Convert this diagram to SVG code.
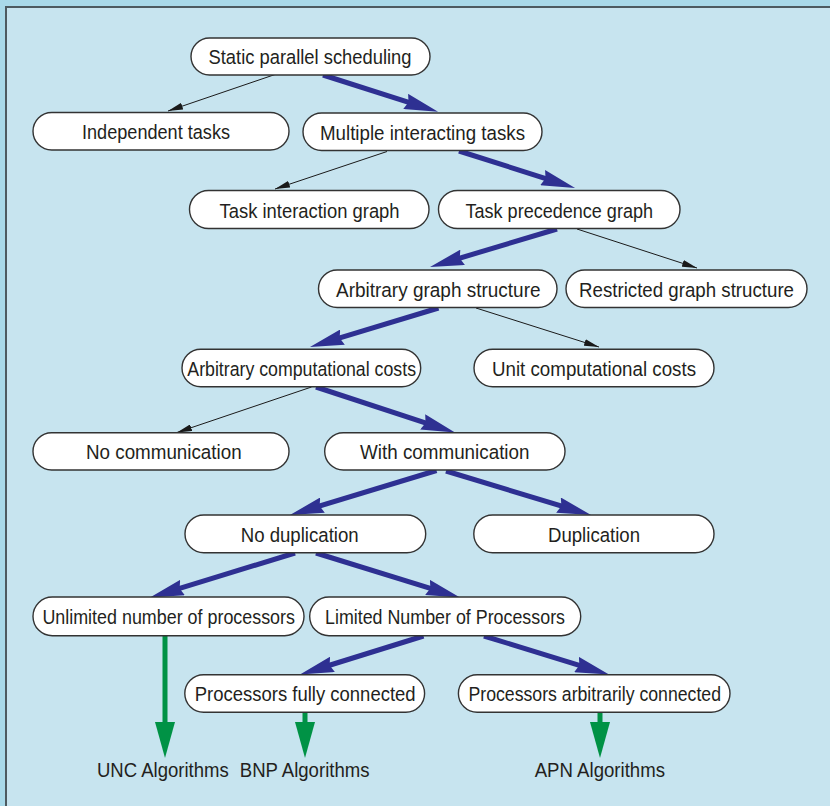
<svg xmlns="http://www.w3.org/2000/svg" width="830" height="806" viewBox="0 0 830 806">
<style>
.node rect{fill:#fff;stroke:#333;stroke-width:1.4}
text{font-family:"Liberation Sans",Arial,sans-serif;font-size:20.5px;fill:#231f20}
.thin{stroke:#1a1a1a;stroke-width:1;fill:none;marker-end:url(#ah-thin)}
.thick{stroke:#2e3092;stroke-width:5;fill:none;marker-end:url(#ah-thick)}
.green{stroke:#009245;stroke-width:5;fill:none;marker-end:url(#ah-green)}
</style>
<defs>
<marker id="ah-thin" markerUnits="userSpaceOnUse" markerWidth="15" markerHeight="7" refX="15" refY="3.5" orient="auto"><path d="M0,0 L15,3.5 L0,7 z" fill="#1a1a1a"/></marker>
<marker id="ah-thick" markerUnits="userSpaceOnUse" markerWidth="34" markerHeight="16" refX="14" refY="8" orient="auto"><path d="M0,0 L34,8 L0,16 L3,8 z" fill="#2e3092"/></marker>
<marker id="ah-green" markerUnits="userSpaceOnUse" markerWidth="36" markerHeight="20" refX="6" refY="10" orient="auto"><path d="M0,0 L36,10 L0,20 z" fill="#009245"/></marker>
</defs>
<rect x="0" y="0" width="830" height="806" fill="#a9d9e9"/>
<rect x="5" y="6" width="825" height="800" fill="#c7e4ef"/>
<path d="M6,806 V7 H830" fill="none" stroke="#4d5a60" stroke-width="2"/>

<g id="connectors">
<line class="thin" x1="275" y1="74.5" x2="168" y2="111"/>
<line class="thick" x1="323" y1="75" x2="419" y2="105.7"/>
<line class="thin" x1="387" y1="151.5" x2="275" y2="189"/>
<line class="thick" x1="459" y1="151" x2="556" y2="181.9"/>
<line class="thick" x1="557" y1="229" x2="449.2" y2="261.3"/>
<line class="thin" x1="577" y1="229" x2="697" y2="268"/>
<line class="thick" x1="438.5" y1="308" x2="329.1" y2="341.2"/>
<line class="thin" x1="476" y1="308" x2="599" y2="347"/>
<line class="thin" x1="311.5" y1="387" x2="177" y2="432.5"/>
<line class="thick" x1="316" y1="387" x2="436" y2="426.3"/>
<line class="thick" x1="436.5" y1="470.5" x2="309.1" y2="509.2"/>
<line class="thick" x1="446" y1="471" x2="571.9" y2="509.2"/>
<line class="thick" x1="295" y1="553" x2="169.1" y2="591.6"/>
<line class="thick" x1="316" y1="553" x2="440.9" y2="591.6"/>
<line class="thick" x1="423.5" y1="636" x2="319.1" y2="668.5"/>
<line class="thick" x1="484" y1="636" x2="589.9" y2="668.6"/>
<line class="green" x1="165" y1="636" x2="165" y2="728"/>
<line class="green" x1="305" y1="713" x2="305" y2="728"/>
<line class="green" x1="600" y1="713" x2="600" y2="728"/>
</g>

<g id="n-static" class="node"><rect x="191" y="38" width="239" height="37" rx="18.5"/><text x="208.5" y="64" textLength="203" lengthAdjust="spacingAndGlyphs">Static parallel scheduling</text></g>
<g id="n-independent" class="node"><rect x="33" y="112.5" width="256" height="37.5" rx="18.7"/><text x="82" y="139" textLength="148" lengthAdjust="spacingAndGlyphs">Independent tasks</text></g>
<g id="n-multiple" class="node"><rect x="303" y="113" width="239" height="37.5" rx="18.7"/><text x="320" y="139.5" textLength="205" lengthAdjust="spacingAndGlyphs">Multiple interacting tasks</text></g>
<g id="n-tig" class="node"><rect x="189.5" y="190.5" width="239.5" height="38" rx="19"/><text x="219.6" y="217.5" textLength="180" lengthAdjust="spacingAndGlyphs">Task interaction graph</text></g>
<g id="n-tpg" class="node"><rect x="438.5" y="190.5" width="241.5" height="38" rx="19"/><text x="465.5" y="217.5" textLength="187.5" lengthAdjust="spacingAndGlyphs">Task precedence graph</text></g>
<g id="n-ags" class="node"><rect x="318.5" y="270" width="238.5" height="37.5" rx="18.7"/><text x="336" y="296.5" textLength="204.5" lengthAdjust="spacingAndGlyphs">Arbitrary graph structure</text></g>
<g id="n-rgs" class="node"><rect x="566" y="270" width="241" height="37.5" rx="18.7"/><text x="579" y="296.5" textLength="215" lengthAdjust="spacingAndGlyphs">Restricted graph structure</text></g>
<g id="n-acc" class="node"><rect x="182" y="349.3" width="238.7" height="37.4" rx="18.7"/><text x="187.3" y="375.5" textLength="228.7" lengthAdjust="spacingAndGlyphs">Arbitrary computational costs</text></g>
<g id="n-ucc" class="node"><rect x="474" y="349.3" width="240" height="37.4" rx="18.7"/><text x="492" y="375.5" textLength="204" lengthAdjust="spacingAndGlyphs">Unit computational costs</text></g>
<g id="n-nocomm" class="node"><rect x="33" y="432.7" width="256" height="37.3" rx="18.6"/><text x="86" y="459" textLength="155.6" lengthAdjust="spacingAndGlyphs">No communication</text></g>
<g id="n-withcomm" class="node"><rect x="324.7" y="432.7" width="240.3" height="37.3" rx="18.6"/><text x="360" y="459" textLength="169.5" lengthAdjust="spacingAndGlyphs">With communication</text></g>
<g id="n-nodup" class="node"><rect x="185" y="515" width="240.7" height="37.7" rx="18.8"/><text x="240.7" y="541.5" textLength="118" lengthAdjust="spacingAndGlyphs">No duplication</text></g>
<g id="n-dup" class="node"><rect x="473.8" y="515" width="240.2" height="37.7" rx="18.8"/><text x="548" y="541.5" textLength="92" lengthAdjust="spacingAndGlyphs">Duplication</text></g>
<g id="n-unlimited" class="node"><rect x="33" y="597" width="271" height="38.7" rx="19.3"/><text x="42.4" y="624" textLength="252.6" lengthAdjust="spacingAndGlyphs">Unlimited number of processors</text></g>
<g id="n-limited" class="node"><rect x="309.7" y="597" width="271" height="38.7" rx="19.3"/><text x="325" y="624" textLength="240" lengthAdjust="spacingAndGlyphs">Limited Number of Processors</text></g>
<g id="n-pfc" class="node"><rect x="184.8" y="674.7" width="239.8" height="37.6" rx="18.8"/><text x="194.8" y="701" textLength="220.8" lengthAdjust="spacingAndGlyphs">Processors fully connected</text></g>
<g id="n-pac" class="node"><rect x="458.4" y="674.7" width="271.6" height="37.6" rx="18.8"/><text x="468.5" y="701" textLength="252.5" lengthAdjust="spacingAndGlyphs">Processors arbitrarily connected</text></g>

<g id="n-unc"><text x="96.9" y="777" textLength="131.8" lengthAdjust="spacingAndGlyphs">UNC Algorithms</text></g>
<g id="n-bnp"><text x="239.8" y="777" textLength="129.7" lengthAdjust="spacingAndGlyphs">BNP Algorithms</text></g>
<g id="n-apn"><text x="534.7" y="777" textLength="130.3" lengthAdjust="spacingAndGlyphs">APN Algorithms</text></g>
</svg>
